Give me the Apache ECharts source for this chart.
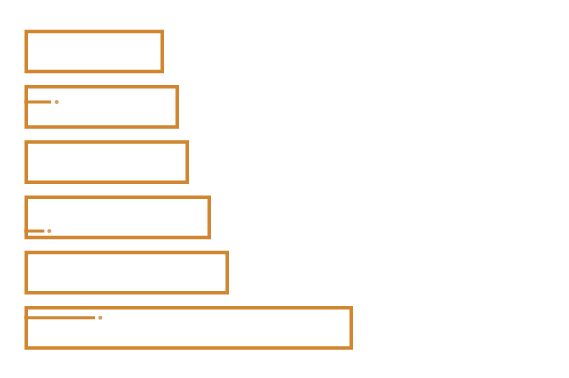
<!DOCTYPE html>
<html>
<head>
<meta charset="utf-8">
<script src="https://cdn.jsdelivr.net/npm/echarts@6/dist/echarts.min.js"></script>
<style>
    html, body { margin: 0; padding: 0; background: #fff; }
    #chart { width: 569px; height: 378px; }
</style>
</head>
<body>
<div id="chart"></div>
<script>
// bars, top to bottom
const categories = ['A', 'B', 'C', 'D', 'E', 'F'];
const barValues = [139.5, 154.5, 164.5, 186.5, 204.5, 328.5];

// short markers inside some bars: row position, line end, dot position
const markerRows = [0.913, 3.248, 4.817];
const markerEnds = [26.5, 19.8, 70.5];
const markerDots = [32.2, 24.8, 75.8];

const color = '#d0852e';

const chart = echarts.init(document.getElementById('chart'));

const option = {
    animation: false,
    grid: {
        left: 24.5,
        top: 23.9,
        width: 500,
        height: 331.6
    },
    xAxis: {
        type: 'value',
        min: 0,
        max: 500,
        show: false
    },
    yAxis: [{
        type: 'category',
        data: categories,
        inverse: true,
        show: false
    }, {
        type: 'value',
        min: -0.5,
        max: 5.5,
        inverse: true,
        show: false
    }],
    series: [{
        type: 'bar',
        data: barValues,
        barCategoryGap: '21%',
        itemStyle: {
            color: 'rgba(0,0,0,0)',
            borderColor: color,
            borderWidth: 3.5
        }
    }, {
        type: 'custom',
        yAxisIndex: 1,
        data: markerRows.map((y, i) => [markerEnds[i], y]),
        renderItem: (params, api) => {
            const start = api.coord([0, api.value(1)]);
            const end = api.coord([api.value(0), api.value(1)]);
            return {
                type: 'line',
                shape: { x1: start[0], y1: start[1], x2: end[0], y2: end[1] },
                style: { stroke: color, lineWidth: 3 }
            };
        }
    }, {
        type: 'scatter',
        yAxisIndex: 1,
        data: markerRows.map((y, i) => [markerDots[i], y]),
        symbolSize: 4,
        itemStyle: { color: color }
    }]
};

chart.setOption(option);
</script>
</body>
</html>
